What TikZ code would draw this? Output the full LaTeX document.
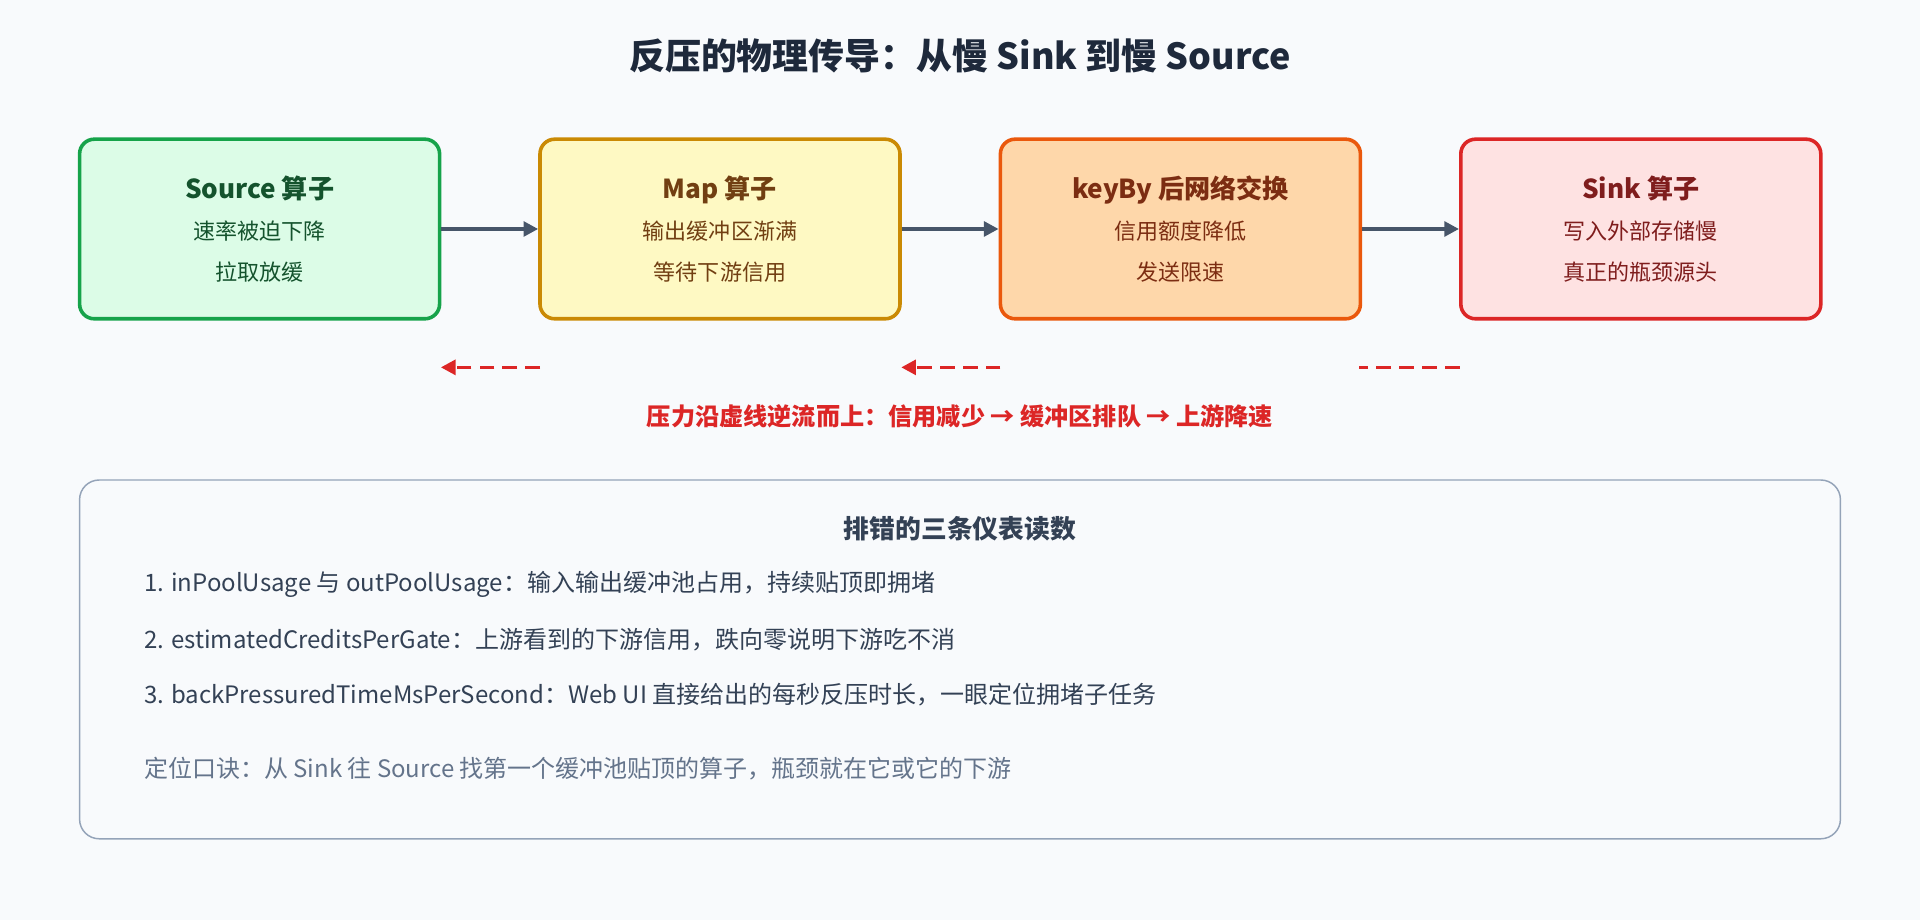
\documentclass[tikz,border=0pt]{standalone}
\usepackage{fontspec}
\setmainfont{Noto Sans CJK SC}
\usetikzlibrary{positioning,arrows.meta}
\definecolor{pagebg}{HTML}{F8FAFC}
\definecolor{titlec}{HTML}{1E293B}
\definecolor{srcfill}{HTML}{DCFCE7}\definecolor{srcline}{HTML}{16A34A}\definecolor{srctext}{HTML}{14532D}
\definecolor{mapfill}{HTML}{FEF9C3}\definecolor{mapline}{HTML}{CA8A04}\definecolor{maptext}{HTML}{713F12}
\definecolor{keyfill}{HTML}{FED7AA}\definecolor{keyline}{HTML}{EA580C}\definecolor{keytext}{HTML}{7C2D12}
\definecolor{snkfill}{HTML}{FEE2E2}\definecolor{snkline}{HTML}{DC2626}\definecolor{snktext}{HTML}{7F1D1D}
\definecolor{flowc}{HTML}{475569}
\definecolor{noteline}{HTML}{94A3B8}
\definecolor{itemc}{HTML}{334155}
\definecolor{hintc}{HTML}{64748B}
\tikzset{
  op/.style={draw, line width=2.2pt, rounded corners=9pt, minimum width=220.5pt,
    minimum height=110pt, align=center, font=\fontsize{13.5}{25}\selectfont},
  flow/.style={-{Triangle[length=9pt,width=9pt]}, line width=3pt, flowc},
  back/.style={line width=2.2pt, snkline, dash pattern=on 9pt off 5pt},
  item/.style={anchor=west, font=\fontsize{14.7}{17}\selectfont, itemc}
}
\begin{document}
\begin{tikzpicture}[x=0.75pt,y=-0.75pt]
\useasboundingbox[fill=pagebg] (0,0) rectangle (1568,751);
\node[font=\bfseries\fontsize{22}{26}\selectfont, titlec] (title) at (784,46)
  {反压的物理传导：从慢 Sink 到慢 Source};

% operators
\node[op, fill=srcfill, draw=srcline, text=srctext] (src) at (212,187)
  {{\bfseries\fontsize{16}{25}\selectfont Source 算子}\\速率被迫下降\\拉取放缓};
\node[op, fill=mapfill, draw=mapline, text=maptext] (map) at (588,187)
  {{\bfseries\fontsize{16}{25}\selectfont Map 算子}\\输出缓冲区渐满\\等待下游信用};
\node[op, fill=keyfill, draw=keyline, text=keytext] (key) at (964,187)
  {{\bfseries\fontsize{16}{25}\selectfont keyBy 后网络交换}\\信用额度降低\\发送限速};
\node[op, fill=snkfill, draw=snkline, text=snktext] (snk) at (1340,187)
  {{\bfseries\fontsize{16}{25}\selectfont Sink 算子}\\写入外部存储慢\\真正的瓶颈源头};

\draw[flow] (src) -- (map);
\draw[flow] (map) -- (key);
\draw[flow] (key) -- (snk);

% back pressure
\coordinate (b1) at (441,300); \coordinate (a1) at (360,300);
\coordinate (b2) at (817,300); \coordinate (a2) at (736,300);
\coordinate (b3) at (1192,300); \coordinate (a3) at (1110,300);
\draw[back, -{Triangle[length=9pt,width=9pt]}] (b1) -- (a1);
\draw[back, -{Triangle[length=9pt,width=9pt]}] (b2) -- (a2);
\draw[back] (b3) -- (a3);
\node[font=\bfseries\fontsize{14.8}{17}\selectfont, text=snkline] (press) at (784,340)
  {压力沿虚线逆流而上：信用减少 → 缓冲区排队 → 上游降速};

% readings
\draw[noteline, line width=0.9pt, rounded corners=12pt, fill=pagebg] (65,392) rectangle (1503,685);
\node[font=\bfseries\fontsize{15.8}{18}\selectfont, itemc] (ntitle) at (784,432) {排错的三条仪表读数};
\node[item] (r1) at (113,477) {1. inPoolUsage 与 outPoolUsage：输入输出缓冲池占用，持续贴顶即拥堵};
\node[item] (r2) at (113,522) {2. estimatedCreditsPerGate：上游看到的下游信用，跌向零说明下游吃不消};
\node[item] (r3) at (113,567) {3. backPressuredTimeMsPerSecond：Web UI 直接给出的每秒反压时长，一眼定位拥堵子任务};
\node[item, text=hintc] (hint) at (113,628) {定位口诀：从 Sink 往 Source 找第一个缓冲池贴顶的算子，瓶颈就在它或它的下游};
\end{tikzpicture}
\end{document}
